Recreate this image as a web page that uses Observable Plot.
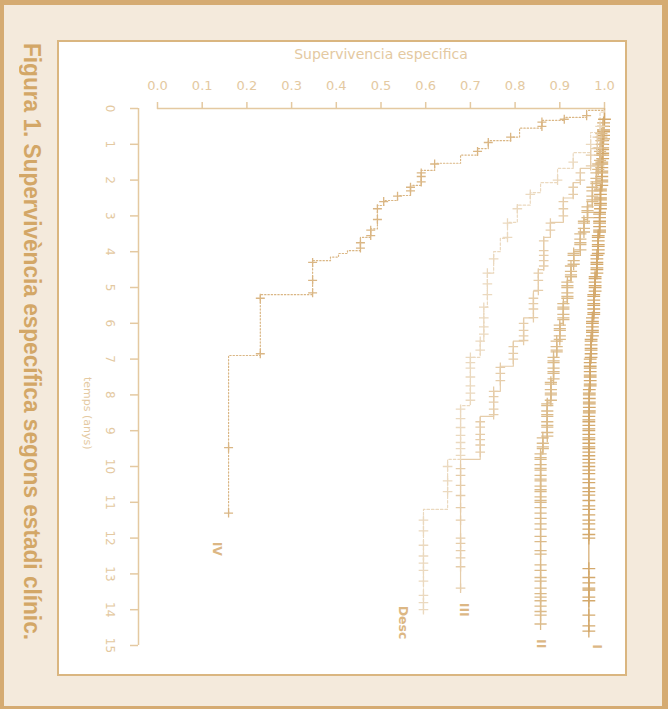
<!DOCTYPE html>
<html><head><meta charset="utf-8">
<script src="https://cdn.jsdelivr.net/npm/d3@7"></script>
<script src="https://cdn.jsdelivr.net/npm/@observablehq/plot@0.6"></script>
<style>
html,body{margin:0;padding:0;}
body{width:668px;height:709px;position:relative;overflow:hidden;background:#f4eadc;}
#frame{position:absolute;left:0;top:0;width:668px;height:709px;box-sizing:border-box;border-style:solid;border-color:#d5ab72;border-width:5px 6px 3px 4px;}
#panel{position:absolute;left:57px;top:40px;width:570px;height:636px;box-sizing:border-box;border:2px solid #dab680;background:#fff;}
#title{position:absolute;left:20px;top:43px;writing-mode:vertical-rl;font-weight:bold;font-size:24px;font-family:"Liberation Sans Narrow","Arial Narrow","Liberation Sans",sans-serif;color:#d3a767;line-height:24px;white-space:nowrap;transform-origin:top left;}
#chart{position:absolute;left:0;top:0;}
</style></head>
<body>
<div id="frame"></div>
<div id="panel"></div>
<div id="title">Figura 1. Supervivència específica segons estadi clínic.</div>
<div id="chart"></div>
<script>
// ---- axis ticks ----
const survTicks = [0, 0.1, 0.2, 0.3, 0.4, 0.5, 0.6, 0.7, 0.8, 0.9, 1.0];
const timeTicks = [0, 1, 2, 3, 4, 5, 6, 7, 8, 9, 10, 11, 12, 13, 14, 15];
const xLabel = "Supervivencia especifica";
const yLabel = "temps (anys)";

// ---- series (Kaplan-Meier steps: time in years, survival after the step) ----
const seriesNames = ["I", "II", "III", "Desc", "IV"];

const I_time = [0, 0.4, 0.9, 1.5, 2.2, 2.9, 3.5, 4.1, 4.7, 5.2, 5.8, 6.4, 7.0, 7.8, 8.6, 14.6];
const I_surv = [1, 0.998, 0.996, 0.994, 0.991, 0.989, 0.986, 0.983, 0.979, 0.976, 0.973, 0.970, 0.968, 0.966, 0.965, 0.965];
const I_censor = [0.3,0.4,0.5,0.6,0.65,0.75,0.85,0.9,1.0,1.1,1.15,1.25,1.3,1.4,1.5,1.55,1.65,1.75,1.8,1.9,2.0,2.05,2.15,2.25,2.3,2.4,2.5,2.55,2.65,2.7,2.8,2.9,2.95,3.05,3.15,3.2,3.3,3.4,3.45,3.55,3.6,3.7,3.8,3.85,3.95,4.05,4.1,4.2,4.3,4.35,4.45,4.5,4.6,4.7,4.75,4.85,4.95,5.0,5.1,5.2,5.25,5.35,5.45,5.5,5.6,5.7,5.75,5.85,5.95,6.0,6.1,6.2,6.25,6.35,6.45,6.5,6.6,6.7,6.75,6.85,6.95,7.0,7.1,7.2,7.25,7.35,7.45,7.5,7.6,7.7,7.75,7.85,7.95,8.0,8.1,8.2,8.25,8.35,8.45,8.5,8.6,8.7,8.75,8.85,8.95,9.0,9.1,9.2,9.25,9.35,9.45,9.5,9.6,9.7,9.8,9.9,10.0,10.1,10.2,10.35,10.45,10.6,10.7,10.8,10.95,11.1,11.2,11.35,11.5,11.6,11.75,11.9,12.0,12.85,13.1,13.25,13.4,13.45,13.65,13.75,14.15,14.45,14.6];

const II_time = [0, 0.3, 0.7, 1.1, 1.5, 1.8, 2.2, 2.7, 3.1, 3.46, 4.0, 4.4, 4.8, 5.4, 6.0, 6.5, 6.95, 7.6, 8.2, 9.2, 9.6, 14.4];
const II_surv = [1, 0.997, 0.993, 0.99, 0.986, 0.982, 0.973, 0.962, 0.954, 0.946, 0.931, 0.925, 0.917, 0.908, 0.90, 0.893, 0.886, 0.88, 0.872, 0.862, 0.857, 0.857];
const II_censor = [0.5,0.6,0.7,0.8,0.9,1.0,1.1,1.2,1.3,1.45,1.55,1.6,1.7,1.8,1.95,2.05,2.1,2.2,2.3,2.45,2.55,2.6,2.75,2.85,2.9,3.05,3.15,3.2,3.35,3.45,3.5,3.65,3.75,3.8,3.95,4.05,4.1,4.25,4.35,4.4,4.55,4.65,4.7,4.85,4.95,5.0,5.15,5.25,5.3,5.45,5.55,5.6,5.75,5.85,5.9,6.05,6.15,6.2,6.35,6.45,6.5,6.65,6.75,6.8,6.95,7.05,7.1,7.25,7.35,7.4,7.55,7.65,7.7,7.85,7.95,8.0,8.15,8.25,8.3,8.45,8.55,8.6,8.75,8.85,8.9,9.05,9.15,9.2,9.35,9.45,9.5,9.65,9.75,9.8,9.95,10.05,10.1,10.25,10.35,10.4,10.55,10.65,10.7,10.85,10.95,11.0,11.15,11.3,11.45,11.6,11.75,11.95,12.1,12.35,12.45,12.75,12.9,13.1,13.2,13.4,13.55,13.65,13.75,13.9,14.05,14.15,14.4];

const III_time = [0, 0.28, 0.75, 1.12, 1.67, 2.07, 2.5, 3.18, 3.6, 4.5, 5.1, 5.85, 6.5, 7.2, 7.9, 8.6, 9.8, 13.46];
const III_surv = [1, 0.996, 0.984, 0.969, 0.946, 0.93, 0.908, 0.879, 0.864, 0.852, 0.841, 0.819, 0.796, 0.767, 0.752, 0.722, 0.678, 0.678];
const III_censor = [0.8,1.1,1.3,1.6,1.8,2.0,2.2,2.4,2.6,2.8,3.0,3.2,3.4,3.7,3.97,4.1,4.25,4.4,4.6,4.8,5.08,5.3,5.45,5.6,5.84,6.0,6.2,6.35,6.48,6.65,6.84,7.0,7.23,7.4,7.6,7.9,8.05,8.2,8.4,8.55,8.75,8.9,9.1,9.25,9.4,9.6,10.06,10.25,10.53,10.81,11.15,11.5,12.0,12.15,12.35,12.55,12.8,13.4];

const Desc_time = [0, 0.1, 0.67, 1.23, 1.67, 2.07, 2.35, 2.7, 3.18, 3.63, 4.0, 4.6, 5.55, 6.5, 6.95, 8.3, 9.8, 11.2, 14.1];
const Desc_surv = [1, 0.99, 0.969, 0.93, 0.895, 0.857, 0.834, 0.805, 0.783, 0.767, 0.752, 0.738, 0.73, 0.722, 0.70, 0.678, 0.649, 0.595, 0.595];
const Desc_censor = [0.5,1.0,1.5,2.0,2.4,2.8,3.2,3.6,4.2,4.6,4.9,5.2,5.55,5.85,6.1,6.3,6.5,6.75,6.95,7.1,7.25,7.5,7.75,7.95,8.15,8.4,8.66,8.91,9.13,9.33,9.5,9.69,10.0,10.4,10.7,11.5,11.8,12.2,12.5,12.7,12.9,13.2,13.6,13.8,14.0];

const IV_time = [0, 0.05, 0.25, 0.33, 0.55, 0.8, 0.9, 1.12, 1.3, 1.53, 1.73, 2.15, 2.43, 2.57, 2.71, 3.36, 3.6, 3.97, 4.05, 4.15, 4.25, 5.2, 6.9, 11.3];
const IV_surv = [1, 0.96, 0.91, 0.86, 0.81, 0.79, 0.74, 0.716, 0.678, 0.62, 0.59, 0.566, 0.537, 0.506, 0.492, 0.477, 0.454, 0.425, 0.405, 0.387, 0.347, 0.23, 0.159, 0.159];
const IV_censor = [0.2,0.3,0.38,0.5,0.8,0.95,1.2,1.55,1.8,1.9,2.05,2.2,2.3,2.45,2.6,2.8,3.1,3.4,3.55,3.75,3.9,4.3,4.8,5.15,5.3,6.85,9.47,11.3];

// curve label anchor (data units)
const labelSurv = [0.984, 0.859, 0.685, 0.55, 0.134];
const labelTime = [15.03, 14.95, 14.0, 14.36, 12.3];

// ---- styles ----
const seriesColors = ["#d4a96c", "#dcbb8a", "#e6cdaa", "#ebd9bf", "#dab684"];
const seriesDash = [null, null, null, "2.5,2", "1.3,2"];
const censorSize = [4.2, 4, 3.2, 3.2, 3];
const axisColor = "#e4c9a1";
const labelColor = "#dcb784";

const curves = [
  {name: "I", time: I_time, surv: I_surv, censor: I_censor},
  {name: "II", time: II_time, surv: II_surv, censor: II_censor},
  {name: "III", time: III_time, surv: III_surv, censor: III_censor},
  {name: "Desc", time: Desc_time, surv: Desc_surv, censor: Desc_censor},
  {name: "IV", time: IV_time, surv: IV_surv, censor: IV_censor}
];
function survAt(c, t) {
  let s = c.surv[0];
  for (let i = 0; i < c.time.length; i++) if (c.time[i] <= t) s = c.surv[i];
  return s;
}
const labelRows = seriesNames.map((n, i) => ({series: n, s: labelSurv[i], t: labelTime[i]}));

const lineMarks = curves.map((c, i) =>
  Plot.line(c.time.map((t, j) => ({t, s: c.surv[j]})), {
    x: "s", y: "t", curve: "step-before",
    stroke: seriesColors[i], strokeWidth: 1.2,
    strokeDasharray: seriesDash[i] || undefined
  })
);
const censorMarks = curves.map((c, i) =>
  Plot.dot(c.censor.map(t => ({t, s: survAt(c, t)})), {
    x: "s", y: "t", symbol: "plus", r: censorSize[i],
    stroke: seriesColors[i], strokeWidth: 1.3
  })
);

const chart = Plot.plot({
  width: 668, height: 709,
  marginTop: 108, marginLeft: 157, marginRight: 64, marginBottom: 64,
  style: {background: "transparent", fontFamily: "DejaVu Sans, sans-serif", overflow: "visible"},
  x: {domain: [0, 1]},
  y: {domain: [0, 15], reverse: true},
  marks: [
    Plot.ruleY([0], {stroke: axisColor, strokeWidth: 1.5}),
    Plot.ruleX([0], {y1: 0, y2: 15, dx: -19, stroke: axisColor, strokeWidth: 1.5}),
    Plot.axisX({anchor: "top", ticks: survTicks, tickFormat: d3.format(".1f"), tickSize: 7, tickPadding: 12,
      color: axisColor, strokeWidth: 1.5, fontSize: 13, label: null}),
    Plot.axisY({anchor: "left", ticks: timeTicks, tickFormat: d => String(d), tickSize: 8, tickPadding: 16,
      tickRotate: 90, dx: -19, color: axisColor, strokeWidth: 1.5, fontSize: 12, label: null}),
    Plot.text([xLabel], {text: d => d, frameAnchor: "top", dy: -59, fill: axisColor, fontSize: 14}),
    Plot.text([yLabel], {text: d => d, frameAnchor: "left", dx: -70, rotate: 90, fill: axisColor, fontSize: 11}),
    ...lineMarks,
    ...censorMarks,
    Plot.text(labelRows, {x: "s", y: "t", text: "series", rotate: 90, fill: labelColor, fontWeight: "bold", fontSize: 12.5})
  ]
});
document.getElementById("chart").appendChild(chart);

// fit the vertical title to its length in the reference
const title = document.getElementById("title");
const h = title.getBoundingClientRect().height;
title.style.transform = `scaleY(${597 / h})`;
</script>
</body></html>
